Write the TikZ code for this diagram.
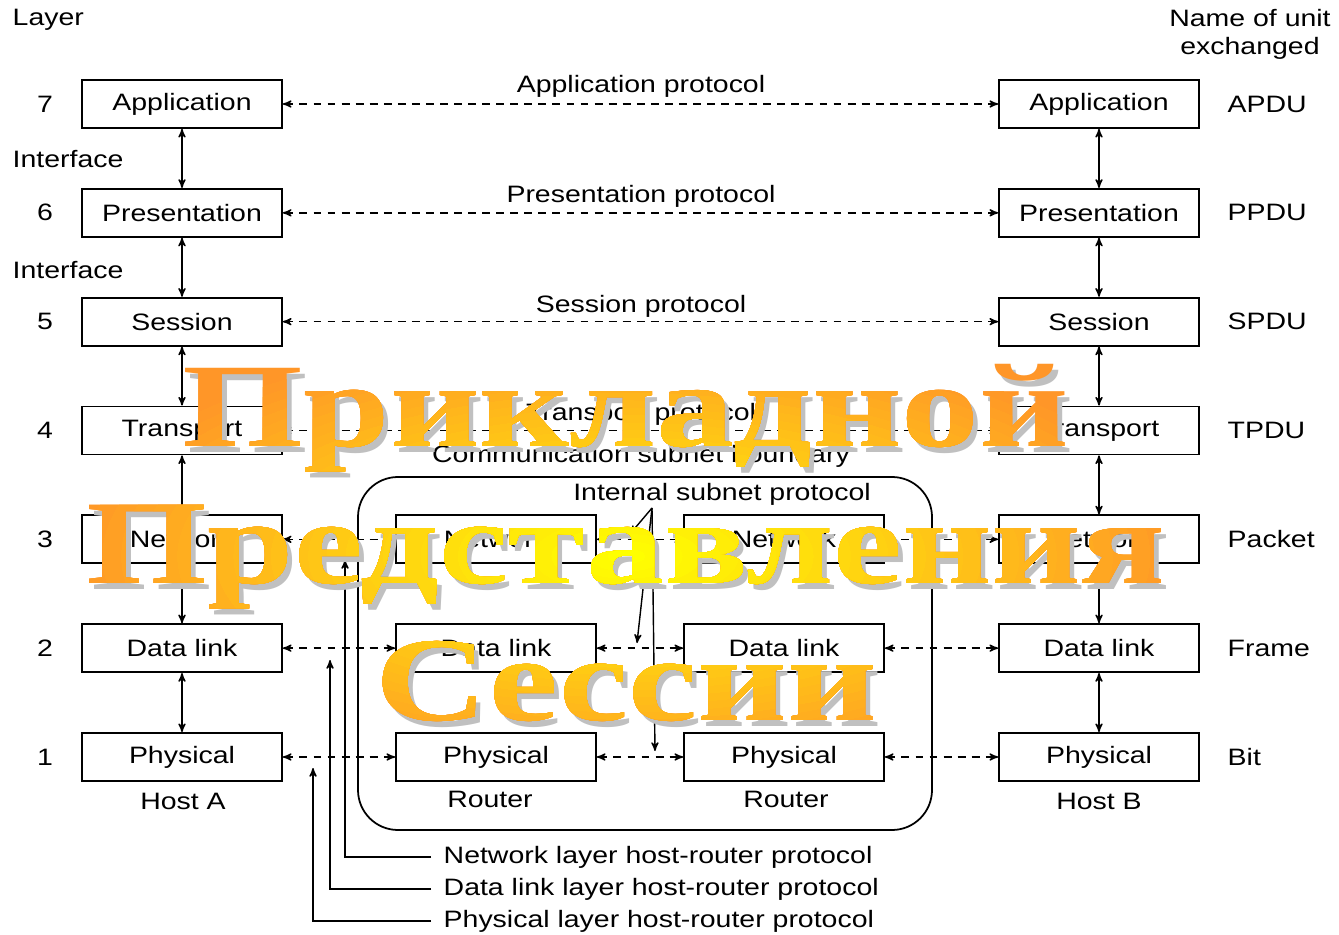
\documentclass[tikz,border=0pt]{standalone}
\usepackage{fontspec}
\setmainfont{Liberation Sans}[FakeStretch=1.2]
\newfontfamily\ovfont{Liberation Serif}[FakeStretch=1.3]
\usetikzlibrary{shapes, calc, arrows, positioning}

\definecolor{ovorange}{RGB}{255,150,40}
\definecolor{ovyellow}{RGB}{255,255,0}
\definecolor{ovshadow}{RGB}{192,192,192}

\newcommand{\ovwords}{\ovfont\bfseries\fontsize{68}{78}\selectfont
  \begin{tabular}{@{}c@{}}Прикладной\\Представления\\Сессии\end{tabular}}

\tikzset{
  layer/.style={draw, line width=1pt, minimum width=4cm, minimum height=0.96cm, inner sep=0pt},
  note/.style={inner sep=0pt},
  hrlbl/.style={anchor=west, inner xsep=0.24cm, inner ysep=0pt},
  peer/.style={<->, dash pattern=on 4.5pt off 3.5pt},
  iface/.style={<->},
}

\begin{document}
\begin{tikzpicture}[x=0.02cm, y=-0.02cm, >=stealth', line width=0.8pt, font=\fontsize{13.5}{16}\selectfont]
	\useasboundingbox[fill=white] (0,0) rectangle (1339,935);

	\node[note, anchor=west] (layerhd) at (12,20) {Layer};
	\node[note, align=center] (unithd) at (1250,34) {Name of unit\\exchanged};
	\node[note, anchor=west] (if7) at (12,159) {Interface};
	\node[note, anchor=west] (if6) at (12,270) {Interface};

	\foreach \n/\name/\unit in {7/Application/APDU, 6/Presentation/PPDU, 5/Session/SPDU, 4/Transport/TPDU, 3/Network/Packet, 2/Data link/Frame, 1/Physical/Bit}{
		\pgfmathsetmacro{\ly}{104+108.83*(7-\n)}
		\node[note] (num\n) at (45,\ly) {\n};
		\node[layer] (ha\n) at (182,\ly) {\name};
		\node[layer] (hb\n) at (1099,\ly) {\name};
		\node[note, anchor=west] (unit\n) at (1227,\ly) {\unit};
	}
	\foreach \n/\name in {3/Network, 2/Data link, 1/Physical}{
		\pgfmathsetmacro{\ly}{104+108.83*(7-\n)}
		\node[layer] (ra\n) at (496,\ly) {\name};
		\node[layer] (rb\n) at (784,\ly) {\name};
	}
	\node[note] (hosta) at (183,801) {Host A};
	\node[note] (hostb) at (1099,801) {Host B};
	\node[note] (routera) at (490,799) {Router};
	\node[note] (routerb) at (786,799) {Router};

	\foreach \n/\m in {7/6,6/5,5/4,4/3,3/2,2/1}{
		\draw[iface] (ha\n) -- (ha\m);
		\draw[iface] (hb\n) -- (hb\m);
	}
	\foreach \n in {7,6,5,4} \draw[peer] (ha\n) -- (hb\n);
	\foreach \n in {3,2,1}{
		\draw[peer] (ha\n) -- (ra\n);
		\draw[peer] (ra\n) -- (rb\n);
		\draw[peer] (rb\n) -- (hb\n);
	}

	\node[note] (ap) at (641,86) {Application protocol};
	\node[note] (pp) at (641,196) {Presentation protocol};
	\node[note] (sp) at (641,306) {Session protocol};
	\node[note] (tp) at (641,414) {Transport protocol};
	\node[note] (csb) at (641,456) {Communication subnet boundary};
	\draw[line width=1pt, rounded corners=0.8cm] (358,477) rectangle (932,830);

	\node[note] (isp) at (722,494) {Internal subnet protocol};
	\coordinate (ispfoot) at (652,508);
	\coordinate (isp3) at (630,534);
	\coordinate (isp2) at (637,643);
	\coordinate (isp1) at (655,751);
	\foreach \n in {3,2,1} \draw[->] (ispfoot) -- (isp\n);

	\node[hrlbl] (hr3) at (431,857) {Network layer host-router protocol};
	\node[hrlbl] (hr2) at (431,889) {Data link layer host-router protocol};
	\node[hrlbl] (hr1) at (431,921) {Physical layer host-router protocol};
	\coordinate (hrt3) at (345,560);
	\coordinate (hrt2) at (330,660);
	\coordinate (hrt1) at (313,768);
	\foreach \n in {3,2,1} \draw[->] (hr\n.west) -| (hrt\n);

	\node[note, text=ovshadow] (ovshade) at (631,562) {\ovwords};
	\node[note, text=ovorange] (ovword) at (626,556) {\ovwords};
	\foreach \k in {1,...,30}{
		\pgfmathsetmacro{\rx}{11.6*(1-\k/31)}
		\pgfmathsetmacro{\ry}{4.6*(1-\k/31)}
		\pgfmathtruncatemacro{\mix}{100*\k/30}
		\begin{scope}
			\clip (ovword.center) ellipse [x radius=\rx cm, y radius=\ry cm];
			\node[note, text=ovyellow!\mix!ovorange] at (ovword.center) {\ovwords};
		\end{scope}
	}
\end{tikzpicture}
\end{document}
